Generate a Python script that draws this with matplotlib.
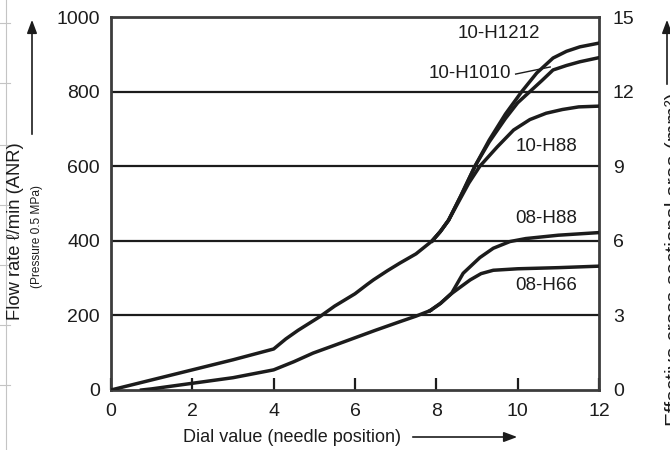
import matplotlib
matplotlib.use("Agg")
import matplotlib.pyplot as plt
from matplotlib.lines import Line2D
from matplotlib.patches import FancyArrowPatch

plt.rcParams['font.family'] = ['Liberation Sans', 'DejaVu Sans']

# ---- data (dial value vs flow rate l/min) ----
base_x = [0, 1, 2, 3, 4, 4.3, 4.6, 5.14, 5.5, 6.0, 6.3, 6.45, 6.8, 7.1, 7.5, 7.9]
base_y = [0, 27, 54, 81, 110, 137, 160, 197, 225, 258, 283, 295, 320, 340, 365, 400]

h1212_x = [7.9, 8.1, 8.3, 8.6, 8.95, 9.3, 9.7, 10.1, 10.47, 10.87, 11.2, 11.53, 12]
h1212_y = [400, 425, 455, 520, 600, 670, 740, 800, 850, 890, 908, 920, 930]

h1010_x = [7.9, 8.1, 8.3, 8.6, 8.95, 9.3, 9.7, 10.0, 10.3, 10.6, 10.87, 11.2, 11.53, 12]
h1010_y = [400, 425, 455, 520, 600, 665, 728, 770, 800, 830, 858, 870, 880, 891]

h88_10_x = [7.9, 8.1, 8.3, 8.6, 8.8, 9.07, 9.5, 9.9, 10.3, 10.7, 11.1, 11.5, 12]
h88_10_y = [400, 425, 455, 515, 555, 600, 652, 697, 725, 742, 752, 759, 761]

low_x = [0.75, 1, 2, 3, 4, 4.5, 4.97, 5.5, 6.0, 6.5, 7.1, 7.5, 7.85]
low_y = [0, 3, 18, 33, 54, 76, 99, 120, 140, 160, 183, 198, 213]

h88_08_x = [7.85, 8.1, 8.38, 8.66, 9.07, 9.4, 9.81, 10.2, 11, 12]
h88_08_y = [213, 232, 260, 313, 355, 380, 398, 406, 415, 422]

h66_08_x = [7.85, 8.1, 8.38, 8.83, 9.1, 9.4, 10, 11, 12]
h66_08_y = [213, 232, 259, 295, 312, 321, 325, 328, 332]

xticks = [0, 2, 4, 6, 8, 10, 12]
yticks = [0, 200, 400, 600, 800, 1000]
y2ticks = [0, 3, 6, 9, 12, 15]

labels = ["10-H1212", "10-H1010", "10-H88", "08-H88", "08-H66"]
label_pos = [(9.54, 957), (8.83, 849), (10.71, 652), (10.71, 461), (10.71, 281)]

# ---- figure ----
fig = plt.figure(figsize=(6.7, 4.5), dpi=100)
ax = fig.add_axes([111/670, 1-390/450, (599-111)/670, (390-17)/450])

dark = '#1c1c1c'
spine_c = '#3c3c3c'

for yv in [200, 400, 600, 800]:
    ax.axhline(yv, color=dark, lw=1.6, zorder=1)

lw = 2.5
ax.plot(base_x, base_y, color=dark, lw=lw, solid_joinstyle='round', zorder=3)
for xs, ys in [(h1212_x, h1212_y), (h1010_x, h1010_y), (h88_10_x, h88_10_y),
               (low_x, low_y), (h88_08_x, h88_08_y), (h66_08_x, h66_08_y)]:
    ax.plot(xs, ys, color=dark, lw=lw, solid_joinstyle='round', zorder=3)

ax.set_xlim(0, 12)
ax.set_ylim(0, 1000)
ax.set_xticks(xticks)
ax.set_yticks(yticks)
ax.tick_params(axis='x', direction='in', length=9, width=1.6, color=dark,
               labelsize=14, pad=9, labelcolor=dark)
ax.tick_params(axis='y', direction='in', length=0, labelsize=14, pad=8,
               labelcolor=dark)
for s in ax.spines.values():
    s.set_color(spine_c)
    s.set_linewidth(2.0)

ax2 = ax.twinx()
ax2.set_ylim(0, 15)
ax2.set_yticks(y2ticks)
ax2.tick_params(axis='y', direction='in', length=0, labelsize=14, pad=10,
                labelcolor=dark)
for s in ax2.spines.values():
    s.set_visible(False)

for t, (lx, ly) in zip(labels, label_pos):
    ax.text(lx, ly, t, ha='center', va='center', fontsize=13.5, color=dark, zorder=4)

# leader for 10-H1010
ax.plot([9.95, 10.8], [847, 866], color=dark, lw=1.0, zorder=4)

arrow_kw = dict(transform=fig.transFigure,
                arrowstyle='-|>,head_length=8,head_width=3',
                mutation_scale=1, color=dark, lw=1.2)

# axis labels with arrows
fig.text(16/670, 1-231/450, "Flow rate ℓ/min (ANR)", rotation=90,
         ha='center', va='center', fontsize=13.2, color=dark)
fig.text(37/670, 1-237/450, "(Pressure 0.5 MPa)", rotation=90,
         ha='center', va='center', fontsize=8.6, color=dark)
fig.add_artist(FancyArrowPatch((32/670, 1-137/450), (32/670, 1-17/450), **arrow_kw))

fig.text(292/670, 1-437/450, "Dial value (needle position)",
         ha='center', va='center', fontsize=13, color=dark)
fig.add_artist(FancyArrowPatch((410/670, 1-437/450), (520/670, 1-437/450), **arrow_kw))

fig.text(675/670, 1-259/450, "Effective cross-sectional area (mm²)", rotation=90,
         ha='center', va='center', fontsize=15, color=dark)
fig.add_artist(FancyArrowPatch((667/670, 1-87/450), (667/670, 1-17/450), **arrow_kw))

# faint page remnants at the left edge
grey = '#c4c4c4'
fig.add_artist(Line2D([6/670, 6/670], [0, 1], transform=fig.transFigure, color=grey, lw=0.8))
for yy in [23, 83, 145, 205, 265, 325, 385]:
    fig.add_artist(Line2D([0, 10/670], [1-yy/450, 1-yy/450], transform=fig.transFigure,
                          color=grey, lw=0.8))

fig.savefig("out.png", dpi=100)
